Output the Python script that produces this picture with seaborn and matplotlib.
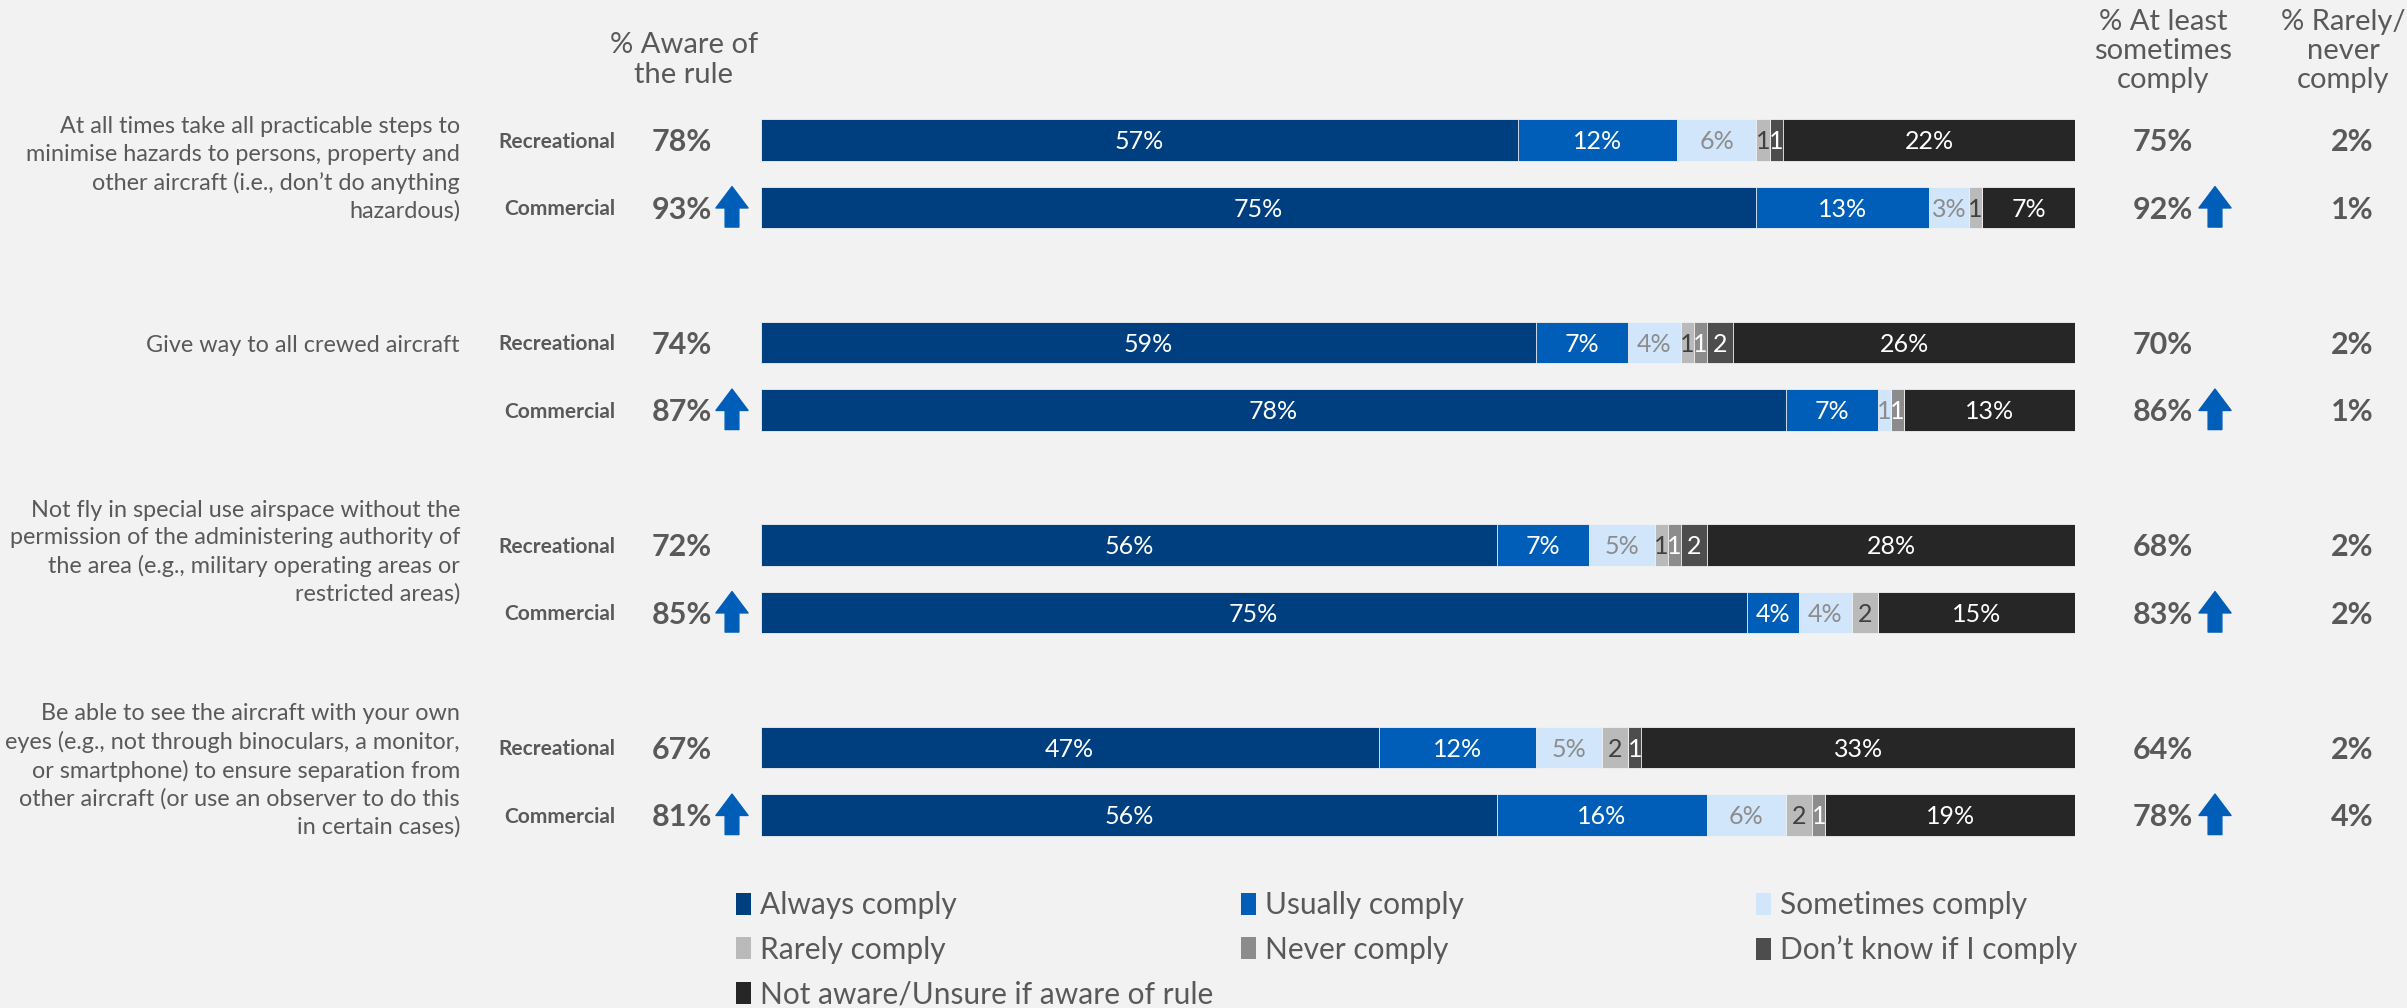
import numpy as np
import pandas as pd
import matplotlib.pyplot as plt
import matplotlib.transforms as mtransforms
from matplotlib.patches import Patch
import seaborn as sns

sns.set_theme(style="white")
plt.rcParams['font.family'] = ['Lato', 'DejaVu Sans']

# ---- data ----
questions = [
    "At all times take all practicable steps to\nminimise hazards to persons, property and\nother aircraft (i.e., don\u2019t do anything\nhazardous)",
    "Give way to all crewed aircraft",
    "Not fly in special use airspace without the\npermission of the administering authority of\nthe area (e.g., military operating areas or\nrestricted areas)",
    "Be able to see the aircraft with your own\neyes (e.g., not through binoculars, a monitor,\nor smartphone) to ensure separation from\nother aircraft (or use an observer to do this\nin certain cases)",
]
groups = ["Recreational", "Commercial"]
segments = ["Always comply", "Usually comply", "Sometimes comply", "Rarely comply",
            "Never comply", "Don\u2019t know if I comply", "Not aware/Unsure if aware of rule"]

# one entry per bar: Q1 Rec, Q1 Com, Q2 Rec, Q2 Com, ...
always = [57, 75, 59, 78, 56, 75, 47, 56]
usually = [12, 13, 7, 7, 7, 4, 12, 16]
sometimes = [6, 3, 4, 1, 5, 4, 5, 6]
rarely = [1, 1, 1, 0, 1, 2, 2, 2]
never = [0, 0, 1, 1, 1, 0, 0, 1]
dont_know = [1, 0, 2, 0, 2, 0, 1, 0]
not_aware = [22, 7, 26, 13, 28, 15, 33, 19]

aware = [78, 93, 74, 87, 72, 85, 67, 81]
at_least = [75, 92, 70, 86, 68, 83, 64, 78]
rarely_never = [2, 1, 2, 1, 2, 2, 2, 4]
aware_up = [False, True, False, True, False, True, False, True]
at_least_up = [False, True, False, True, False, True, False, True]

# ---- styling ----
seg_colors = ["#003f7f", "#005eb8", "#d1e6fb", "#bababa", "#8c8c8c", "#4d4d4d", "#262626"]
lab_colors = ["white", "white", "#8c8c8c", "#404040", "white", "white", "white"]
text_col = "#595959"
arrow_col = "#005eb8"
bg = "#f2f2f2"
q_offset = [0.43, 0.04, 0.11, 0.34]  # vertical position of question text vs recreational bar

W, H = 2407, 1008
fig = plt.figure(figsize=(W / 100, H / 100), dpi=100, facecolor=bg)
ax = fig.add_axes([761 / W, 0.158, 1314 / W, 0.7366])
ax.set_facecolor("none")

row_keys = [f"q{i}_{g[:3].lower()}" for i in range(4) for g in groups]
order = []
for i in range(4):
    order += [f"q{i}_rec", f"q{i}_com"]
    if i < 3:
        order.append(f"gap{i}")

vals = np.array([always, usually, sometimes, rarely, never, dont_know, not_aware], dtype=float).T
widths = vals / vals.sum(axis=1, keepdims=True) * 100
cum = np.cumsum(widths, axis=1)

df = pd.DataFrame(cum, columns=segments)
df["row"] = row_keys

# stacked bars: draw cumulative totals from the last segment backwards
for k in reversed(range(len(segments))):
    sns.barplot(data=df, x=segments[k], y="row", order=order, orient="h",
                color=seg_colors[k], saturation=1, errorbar=None, width=0.62,
                linewidth=0.6, edgecolor=bg, ax=ax)

ax.set_xlim(0, 100)
ax.set_ylim(10.5, -0.5)
ax.set_axis_off()

# segment labels
for r, key in enumerate(row_keys):
    y = order.index(key)
    left = 0
    for k in range(len(segments)):
        v = int(vals[r, k])
        w = widths[r, k]
        if v > 0:
            lab = f"{v}%" if v >= 3 else str(v)
            ax.text(left + w / 2, y, lab, ha="center", va="center_baseline",
                    color=lab_colors[k], fontsize=18)
        left += w

trans = mtransforms.blended_transform_factory(fig.transFigure, ax.transData)


def up_arrow(xpx, y):
    ax.annotate("", xy=(xpx / W, y - 0.31), xytext=(xpx / W, y + 0.29),
                xycoords=trans, textcoords=trans,
                arrowprops=dict(arrowstyle="simple,head_length=0.7,head_width=1.05,tail_width=0.45",
                                color=arrow_col, mutation_scale=22, shrinkA=0, shrinkB=0))


for i, q in enumerate(questions):
    ax.text(460 / W, order.index(f"q{i}_rec") + q_offset[i], q, transform=trans,
            ha="right", va="center", fontsize=16.8, color=text_col, linespacing=1.37)

for r, key in enumerate(row_keys):
    y = order.index(key)
    ax.text(615 / W, y, groups[r % 2], transform=trans, ha="right", va="center_baseline",
            fontsize=15, fontweight="bold", color=text_col)
    ax.text(712 / W, y, f"{aware[r]}%", transform=trans, ha="right", va="center_baseline",
            fontsize=22, fontweight="bold", color=text_col)
    ax.text(2163 / W, y, f"{at_least[r]}%", transform=trans, ha="center", va="center_baseline",
            fontsize=22, fontweight="bold", color=text_col)
    ax.text(2352 / W, y, f"{rarely_never[r]}%", transform=trans, ha="center", va="center_baseline",
            fontsize=22, fontweight="bold", color=text_col)
    if aware_up[r]:
        up_arrow(732, y)
    if at_least_up[r]:
        up_arrow(2215, y)

# column headers
fig.text(684 / W, 1 - 60 / H, "% Aware of\nthe rule", ha="center", va="center",
         fontsize=21, color=text_col, linespacing=1.16)
fig.text(2163 / W, 1 - 51 / H, "% At least\nsometimes\ncomply", ha="center", va="center",
         fontsize=21, color=text_col, linespacing=1.14)
fig.text(2343 / W, 1 - 51 / H, "% Rarely/\nnever\ncomply", ha="center", va="center",
         fontsize=21, color=text_col, linespacing=1.14)

# legend, three columns placed like the original
handles = [Patch(facecolor=c, edgecolor="none", label=s) for s, c in zip(segments, seg_colors)]
cols = [([0, 3, 6], 736), ([1, 4], 1241), ([2, 5], 1756)]
for idx, xpx in cols:
    fig.legend(handles=[handles[i] for i in idx], loc="upper left",
               bbox_to_anchor=(xpx / W, 1 - 891 / H), frameon=False, fontsize=21.5,
               labelcolor=text_col, handlelength=0.5, handleheight=0.75, handletextpad=0.3,
               labelspacing=0.56, borderpad=0, borderaxespad=0)

fig.savefig("out.png", dpi=100, facecolor=bg)
